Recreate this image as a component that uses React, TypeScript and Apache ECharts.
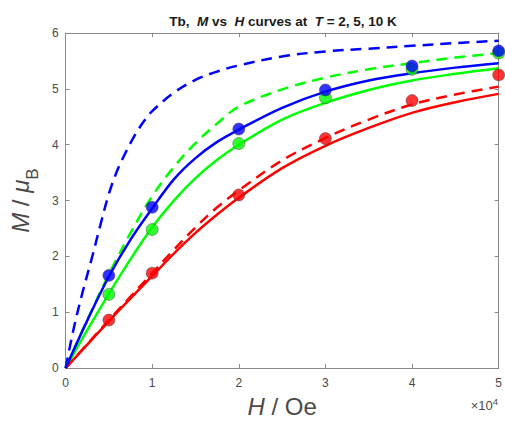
import React, { useEffect, useRef } from "react";
import * as echarts from "echarts";

// Measured points (H in Oe, M in μB)
const H_POINTS = [5000, 10000, 20000, 30000, 40000, 50000];
const M_BLUE_POINTS = [1.66, 2.88, 4.28, 4.98, 5.41, 5.68];
const M_GREEN_POINTS = [1.32, 2.48, 4.02, 4.84, 5.35, 5.64];
const M_RED_POINTS = [0.86, 1.7, 3.1, 4.11, 4.79, 5.25];

// Curves
const H_BLUE_DASH = [0, 1000, 2000, 3000, 4000, 5000, 6000, 7000, 8000, 9000, 10000, 12500, 15000, 17500, 20000, 25000, 30000, 35000, 40000, 45000, 50000];
const M_BLUE_DASH = [0, 0.75, 1.38, 1.95, 2.55, 3.12, 3.55, 3.88, 4.17, 4.41, 4.6, 4.93, 5.16, 5.31, 5.42, 5.58, 5.67, 5.72, 5.77, 5.82, 5.86];

const H_CURVE = [0, 2500, 5000, 7500, 10000, 12500, 15000, 17500, 20000, 25000, 30000, 35000, 40000, 45000, 50000];
const M_BLUE_SOLID = [0, 0.85, 1.64, 2.3, 2.86, 3.38, 3.76, 4.05, 4.27, 4.66, 4.95, 5.15, 5.28, 5.38, 5.46];
const M_GREEN_DASH = [0, 0.86, 1.68, 2.42, 3.08, 3.6, 4.03, 4.38, 4.68, 4.99, 5.2, 5.35, 5.46, 5.56, 5.64];
const M_GREEN_SOLID = [0, 0.68, 1.33, 1.95, 2.52, 3.0, 3.4, 3.73, 4.0, 4.45, 4.75, 4.98, 5.15, 5.27, 5.37];
const M_RED_SOLID = [0, 0.42, 0.84, 1.25, 1.65, 2.05, 2.42, 2.75, 3.05, 3.58, 3.98, 4.3, 4.57, 4.76, 4.91];
const M_RED_DASH = [0, 0.43, 0.86, 1.28, 1.7, 2.12, 2.52, 2.88, 3.18, 3.72, 4.12, 4.45, 4.72, 4.9, 5.04];

const X_TICKS = ["0", "1", "2", "3", "4", "5"];

const BLUE = "#0000ff";
const GREEN = "#00ff00";
const RED = "#ff0000";
const AXIS_COLOR = "#8a8a8a";
const LABEL_COLOR = "#4a4a4a";
const FONT = "Arial, 'Liberation Sans', Helvetica, sans-serif";

const zip = (xs: number[], ys: number[]) => xs.map((x, i) => [x, ys[i]]);

export default function App() {
  const ref = useRef<HTMLDivElement>(null);
  useEffect(() => {
    if (!ref.current) return;
    const chart = echarts.init(ref.current, undefined, { renderer: "svg" });

    const lineSeries = (data: number[][], color: string, dashed: boolean) => ({
      type: "line",
      data,
      smooth: 0.35,
      showSymbol: false,
      symbol: "none",
      lineStyle: { color, width: 2.5, type: dashed ? [11, 7] : "solid" },
      z: 2,
    });
    const dotSeries = (data: number[][], color: string) => ({
      type: "scatter",
      data,
      symbol: "circle",
      symbolSize: 12,
      itemStyle: { color, borderColor: "#404040", borderWidth: 0.6 },
      z: 3,
    });

    const axisCommon = {
      type: "value",
      axisLine: { show: true, onZero: false, lineStyle: { color: AXIS_COLOR, width: 1 } },
      axisTick: { show: true, inside: true, length: 4, lineStyle: { color: AXIS_COLOR } },
      splitLine: { show: false },
    };

    chart.setOption({
      animation: false,
      backgroundColor: "#ffffff",
      grid: { left: 64, right: 3, top: 33, bottom: 53, containLabel: false },
      xAxis: [
        {
          ...axisCommon,
          min: 0,
          max: 50000,
          interval: 10000,
          axisLabel: {
            color: LABEL_COLOR,
            fontSize: 12,
            fontFamily: FONT,
            margin: 9,
            formatter: (v: number) => X_TICKS[Math.round(v / 10000)] ?? "",
          },
          name: "{i|H} / Oe",
          nameLocation: "middle",
          nameGap: 21,
          nameTextStyle: {
            color: LABEL_COLOR,
            fontSize: 24,
            fontFamily: FONT,
            rich: { i: { fontStyle: "italic", fontSize: 24, fontFamily: FONT, color: LABEL_COLOR } },
          },
        },
        {
          ...axisCommon,
          position: "top",
          min: 0,
          max: 50000,
          interval: 10000,
          axisLabel: { show: false },
        },
      ],
      yAxis: [
        {
          ...axisCommon,
          min: 0,
          max: 6,
          interval: 1,
          axisLabel: { color: LABEL_COLOR, fontSize: 12, fontFamily: FONT, margin: 7 },
          name: "{i|M} / {i|μ}{s|B}",
          nameLocation: "middle",
          nameGap: 22,
          nameRotate: 90,
          nameTextStyle: {
            color: LABEL_COLOR,
            fontSize: 24,
            fontFamily: FONT,
            rich: {
              i: { fontStyle: "italic", fontSize: 24, fontFamily: FONT, color: LABEL_COLOR, lineHeight: 28 },
              s: { fontSize: 17, fontFamily: FONT, color: LABEL_COLOR, verticalAlign: "bottom", lineHeight: 28, padding: [0, 0, -7, 0] },
            },
          },
        },
        {
          ...axisCommon,
          position: "right",
          min: 0,
          max: 6,
          interval: 1,
          axisLabel: { show: false },
        },
      ],
      graphic: [
        {
          type: "text",
          x: 283,
          y: 21,
          style: {
            text: "{b|Tb,  }{bi|M}{b| vs  }{bi|H}{b| curves at  }{bi|T}{b| = 2, 5, 10 K}",
            align: "center",
            verticalAlign: "middle",
            rich: {
              b: { fontWeight: "bold", fontSize: 13.5, fontFamily: FONT, fill: "#1a1a1a" },
              bi: { fontWeight: "bold", fontStyle: "italic", fontSize: 13.5, fontFamily: FONT, fill: "#1a1a1a" },
            },
          },
        },
        {
          type: "text",
          x: 498,
          y: 405,
          style: {
            text: "×10{s|4}",
            align: "right",
            verticalAlign: "middle",
            fontSize: 13,
            fontFamily: FONT,
            fill: LABEL_COLOR,
            rich: {
              s: { fontSize: 9.5, fontFamily: FONT, fill: LABEL_COLOR, verticalAlign: "top", padding: [0, 0, 8, 0] },
            },
          },
        },
      ],
      series: [
        lineSeries(zip(H_BLUE_DASH, M_BLUE_DASH), BLUE, true),
        lineSeries(zip(H_CURVE, M_GREEN_DASH), GREEN, true),
        lineSeries(zip(H_CURVE, M_RED_DASH), RED, true),
        lineSeries(zip(H_CURVE, M_GREEN_SOLID), GREEN, false),
        lineSeries(zip(H_CURVE, M_RED_SOLID), RED, false),
        lineSeries(zip(H_CURVE, M_BLUE_SOLID), BLUE, false),
        dotSeries(zip(H_POINTS, M_RED_POINTS), RED),
        dotSeries(zip(H_POINTS, M_GREEN_POINTS), GREEN),
        dotSeries(zip(H_POINTS, M_BLUE_POINTS), BLUE),
      ],
    });
    return () => chart.dispose();
  }, []);
  return (
    <div
      ref={ref}
      style={{ position: "fixed", left: 0, top: 0, width: 505, height: 423, background: "#fff" }}
    />
  );
}
